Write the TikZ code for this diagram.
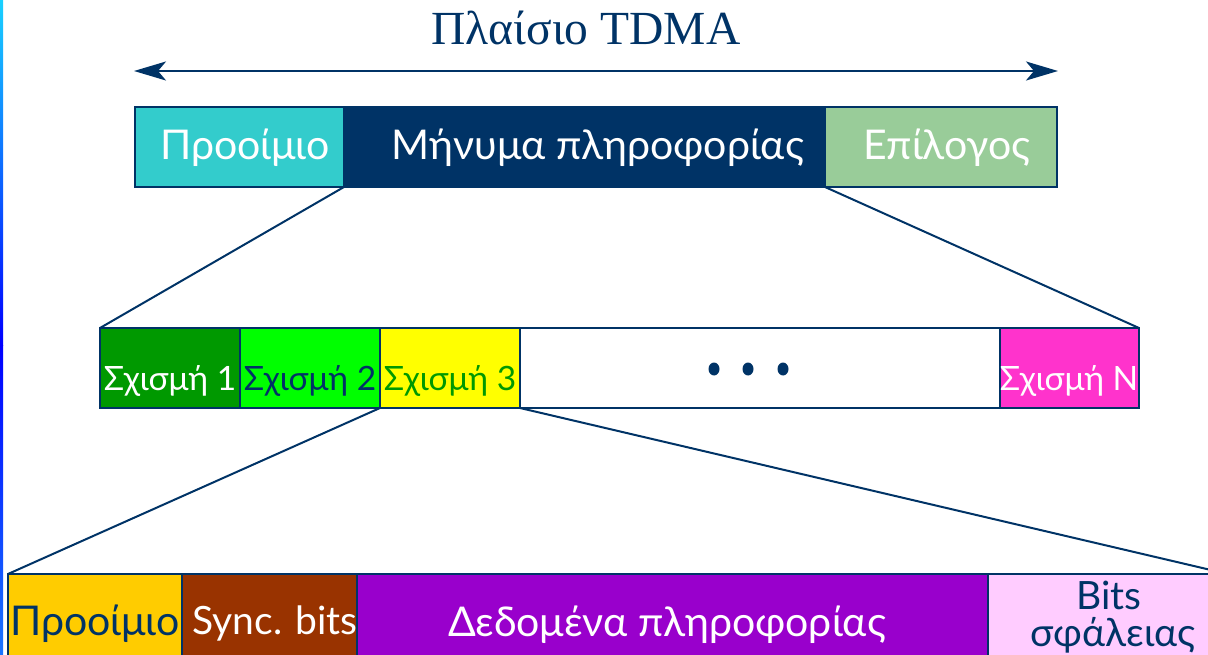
\documentclass[tikz,border=0pt]{standalone}
\usepackage{fontspec}
\setmainfont{Lato}
\newfontfamily\titlefont{Liberation Serif}
\usetikzlibrary{arrows.meta}
\definecolor{navy}{HTML}{003366}
\definecolor{cyanbox}{HTML}{33CCCC}
\definecolor{greenbox}{HTML}{99CC99}
\definecolor{slotA}{HTML}{009900}
\definecolor{slotB}{HTML}{00FF00}
\definecolor{slotC}{HTML}{FFFF00}
\definecolor{slotN}{HTML}{FF33CC}
\definecolor{preB}{HTML}{FFCC00}
\definecolor{syncB}{HTML}{993300}
\definecolor{dataB}{HTML}{9900CC}
\definecolor{errB}{HTML}{FFCCFF}
\tikzset{
  seg/.style={draw=navy, line width=2, inner sep=0, outer sep=0, anchor=north west, rectangle},
  big/.style={font=\fontsize{41}{48}\selectfont},
  mid/.style={font=\fontsize{33.5}{38}\selectfont},
  small/.style={font=\fontsize{39}{44}\selectfont},
  conn/.style={draw=navy, line width=2},
}
\begin{document}
\begin{tikzpicture}[x=1pt,y=-1pt]
\useasboundingbox (0,0) rectangle (1208,655);
\clip (0,0) rectangle (1208,655);
% left strip
\shade[top color=cyan!80!blue!90!white, bottom color=blue] (0,0) rectangle (3,345);
\shade[top color=blue, bottom color=blue!60!cyan!90!white] (0,345) rectangle (3,655);
% title
\node[font=\titlefont\fontsize{47.5}{52}\selectfont, text=navy, anchor=base] (title) at (586,45) {Πλαίσιο TDMA};
\coordinate (aL) at (134,71);
\coordinate (aR) at (1058,71);
\draw[navy, line width=2, {Stealth[length=32, width=19, inset=8]}-{Stealth[length=32, width=19, inset=8]}] (aL) -- (aR);
% top row
\node[seg, fill=cyanbox, minimum width=209, minimum height=80] (pre) at (135,107) {};
\node[seg, fill=navy, minimum width=481, minimum height=80] (msg) at (344,107) {};
\node[seg, fill=greenbox, minimum width=232, minimum height=80] (epi) at (825,107) {};
\node[big, text=white, anchor=base] (preT) at (245,160) {Προοίμιο};
\node[big, text=white, anchor=base] (msgT) at (598,160) {Μήνυμα πληροφορίας};
\node[big, text=white, anchor=base] (epiT) at (947,160) {Επίλογος};
% middle row
\node[seg, fill=slotA, minimum width=140, minimum height=80] (s1) at (100,328) {};
\node[seg, fill=slotB, minimum width=140, minimum height=80] (s2) at (240,328) {};
\node[seg, fill=slotC, minimum width=140, minimum height=80] (s3) at (380,328) {};
\node[seg, fill=white, minimum width=480, minimum height=80] (dots) at (520,328) {};
\node[seg, fill=slotN, minimum width=139, minimum height=80] (sN) at (1000,328) {};
\node[mid, text=white, anchor=base] (s1T) at (170,390) {Σχισμή 1};
\node[mid, text=navy, anchor=base] (s2T) at (310,390) {Σχισμή 2};
\node[mid, text=slotA, anchor=base] (s3T) at (450,390) {Σχισμή 3};
\node[mid, text=white, anchor=base] (sNT) at (1069,390) {Σχισμή N};
\foreach \xx [count=\i] in {714,748,783} \fill[navy] (\xx,369) ellipse (5.5 and 6.5);
% bottom row
\node[seg, fill=preB, minimum width=174, minimum height=82] (bpre) at (8,574) {};
\node[seg, fill=syncB, minimum width=175, minimum height=82] (sync) at (182,574) {};
\node[seg, fill=dataB, minimum width=631, minimum height=82] (data) at (357,574) {};
\node[seg, fill=errB, minimum width=240, minimum height=82] (err) at (988,574) {};
\node[big, text=navy, anchor=base] (bpreT) at (95,635) {Προοίμιο};
\node[small, text=white, anchor=base] (syncT) at (275,634) {Sync. bits};
\node[big, text=white, anchor=base] (dataT) at (667,636) {Δεδομένα πληροφορίας};
\node[small, text=navy, anchor=base] (errT1) at (1109,609) {Bits};
\node[small, text=navy, anchor=base] (errT2) at (1113,646) {σφάλειας};
% connectors
\draw[conn] (msg.south west) -- (s1.north west);
\draw[conn] (msg.south east) -- (sN.north east);
\draw[conn] (s3.south west) -- (bpre.north west);
\draw[conn] (s3.south east) -- (err.north east);
\end{tikzpicture}
\end{document}
